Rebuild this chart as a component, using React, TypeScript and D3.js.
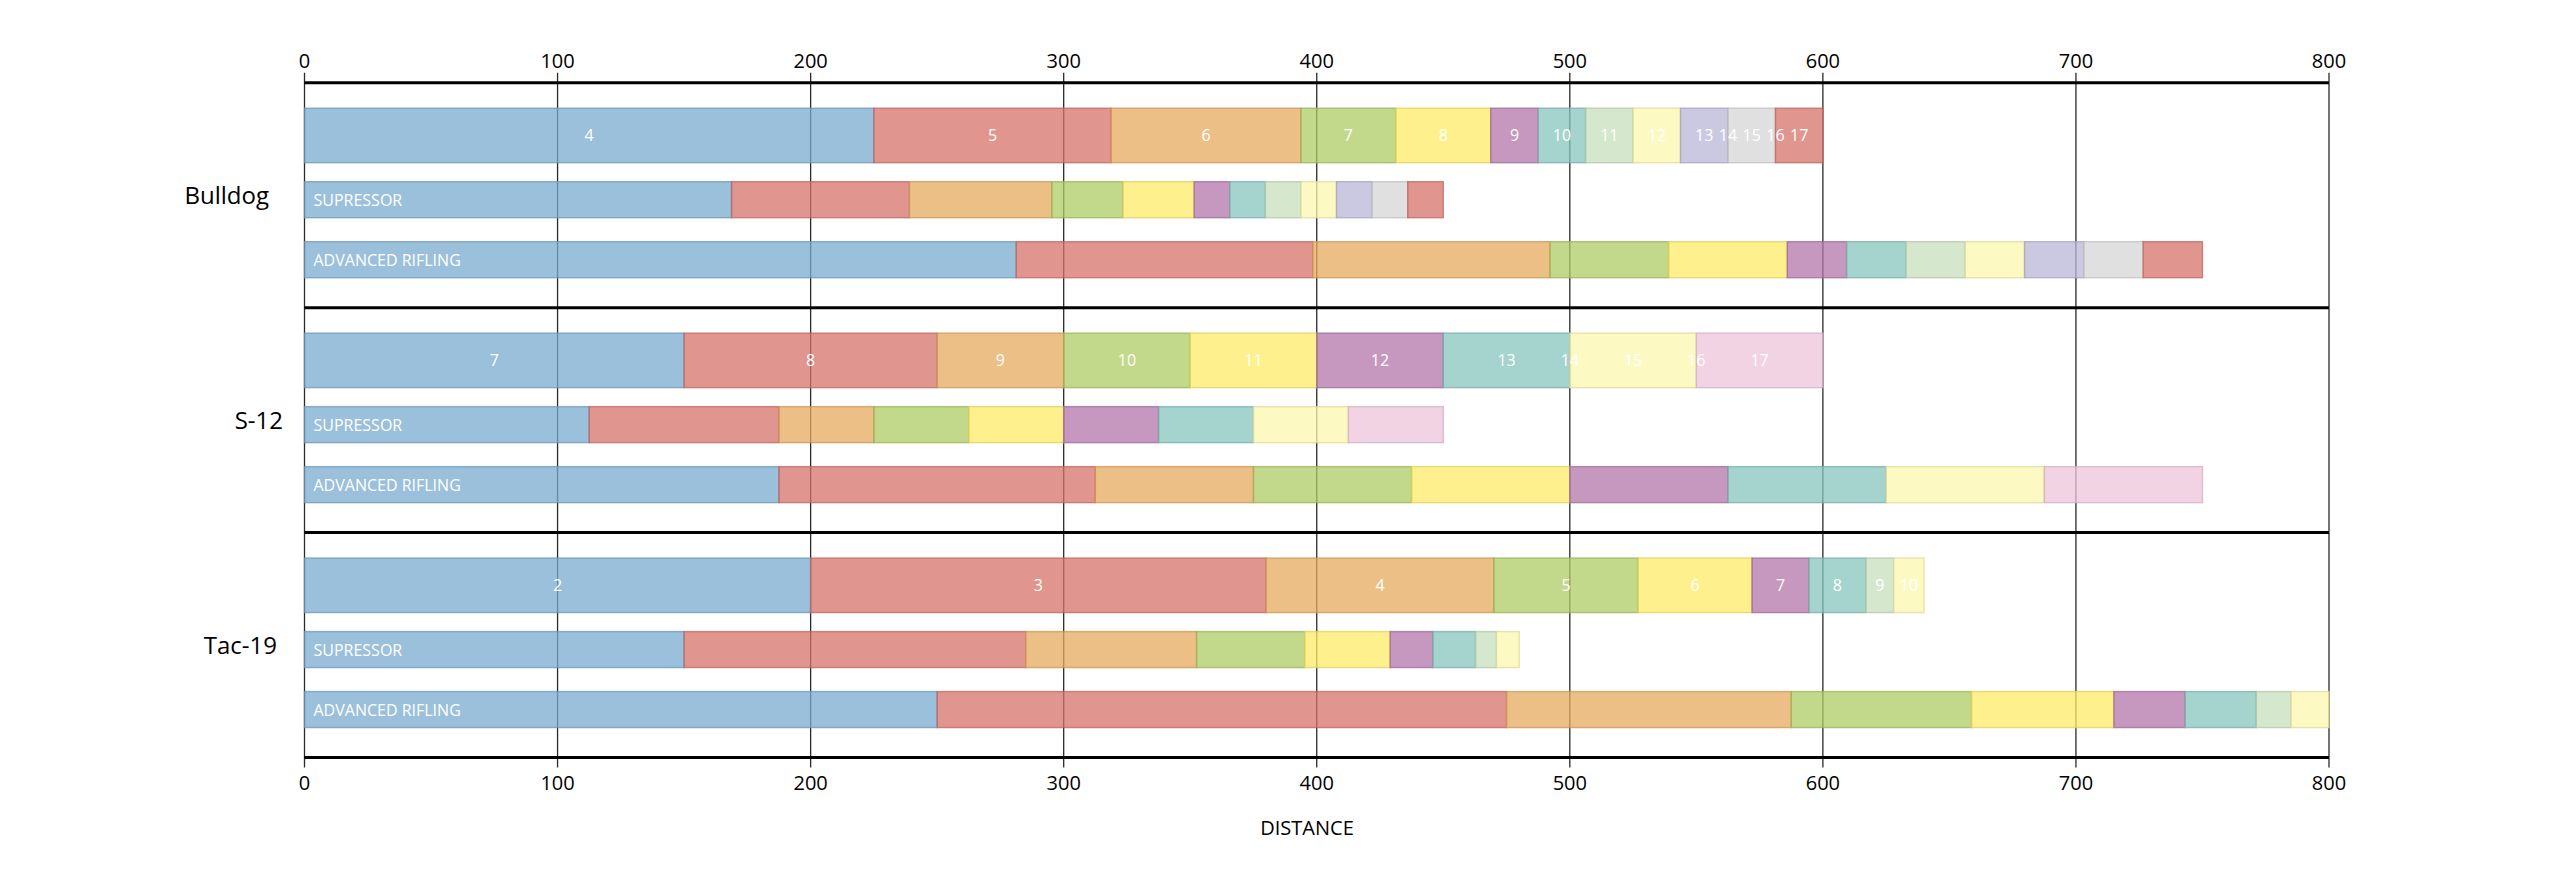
import React from "react";
import * as d3 from "d3";

// ---------- data ----------
const weapons = ["Bulldog", "S-12", "Tac-19"];
const firstShotCount = [4, 7, 2];
const bulldogBase = [225, 318.75, 393.75, 431.25, 468.75, 487.5, 506.25, 525, 543.75, 562.5, 562.5, 581.25, 581.25, 600];
const bulldogSupressor = [168.75, 239.06, 295.31, 323.44, 351.56, 365.63, 379.69, 393.75, 407.81, 421.88, 421.88, 435.94, 435.94, 450];
const bulldogRifling = [281.25, 398.44, 492.19, 539.06, 585.94, 609.38, 632.81, 656.25, 679.69, 703.13, 703.13, 726.56, 726.56, 750];
const s12Base = [150, 250, 300, 350, 400, 450, 500, 500, 550, 550, 600];
const s12Supressor = [112.5, 187.5, 225, 262.5, 300, 337.5, 375, 375, 412.5, 412.5, 450];
const s12Rifling = [187.5, 312.5, 375, 437.5, 500, 562.5, 625, 625, 687.5, 687.5, 750];
const tac19Base = [200, 380, 470, 527, 572, 594.5, 617, 628, 640];
const tac19Supressor = [150, 285, 352.5, 395.25, 429, 445.88, 462.75, 471, 480];
const tac19Rifling = [250, 475, 587.5, 658.75, 715, 743.13, 771.25, 785, 800];
const rowLabels = ["", "SUPRESSOR", "ADVANCED RIFLING"];
const xTickValues = [0, 100, 200, 300, 400, 500, 600, 700, 800];
const axisTitle = "DISTANCE";
const palette = [
  "#9bc0db", "#e0958f", "#ecbf86", "#c2d88a", "#fef08c", "#c698c0",
  "#a5d3cd", "#d5e7cd", "#fcf9c3", "#cbc9e2", "#f2d3e4", "#e0e0e0",
];

const weaponRows = [
  [bulldogBase, bulldogSupressor, bulldogRifling],
  [s12Base, s12Supressor, s12Rifling],
  [tac19Base, tac19Supressor, tac19Rifling],
];

// ---------- layout ----------
const W = 2550;
const H = 873;
const X0 = 304.5;
const X1 = 2329;
const TOP = 82.7;
const BOTTOM = 757.5;
const labelRight = [269, 283, 277];
const rowOffset = [25.5, 99, 159];
const rowHeight = [54.5, 36, 36];
const ALPHA = 0.75;
const FONT = "'Open Sans', 'Noto Sans', sans-serif";

function baseFill(c: string) {
  const o = d3.rgb(c);
  const f = (v: number) => Math.max(0, Math.min(255, (v - 255 * (1 - ALPHA)) / ALPHA));
  return d3.rgb(f(o.r), f(o.g), f(o.b)).formatHex();
}

export default function App() {
  const x = d3.scaleLinear().domain([0, 800]).range([X0, X1]);
  const y = d3.scaleBand<string>().domain(weapons).range([TOP, BOTTOM]).paddingInner(0).paddingOuter(0);
  const bw = y.bandwidth();

  return (
    <svg
      width={W}
      height={H}
      viewBox={`0 0 ${W} ${H}`}
      style={{ position: "absolute", left: 0, top: 0, background: "#fff", fontFamily: FONT }}
    >
      <rect x={0} y={0} width={W} height={H} fill="#fff" />
      {/* grid lines */}
      {xTickValues.map((t) => (
        <line key={"g" + t} x1={x(t)} x2={x(t)} y1={TOP - 10} y2={BOTTOM + 10} stroke="#2a2a2a" strokeWidth={1.3} />
      ))}
      {/* bars */}
      {weapons.map((w, wi) => {
        const top = y(w) as number;
        return (
          <g key={w}>
            {weaponRows[wi].map((vals, ri) => {
              const yy = top + rowOffset[ri];
              const hh = rowHeight[ri];
              return (
                <g key={ri}>
                  {vals.map((v, i) => {
                    const s = i === 0 ? 0 : vals[i - 1];
                    if (v - s <= 0) return null;
                    const col = palette[i % palette.length];
                    const fill = baseFill(col);
                    return (
                      <rect
                        key={i}
                        x={x(s)}
                        y={yy}
                        width={x(v) - x(s)}
                        height={hh}
                        fill={fill}
                        fillOpacity={ALPHA}
                        stroke={d3.rgb(fill).darker(0.35).formatHex()}
                        strokeOpacity={ALPHA}
                        strokeWidth={1.4}
                      />
                    );
                  })}
                  {ri === 0 &&
                    vals.map((v, i) => {
                      const s = i === 0 ? 0 : vals[i - 1];
                      return (
                        <text
                          key={"t" + i}
                          x={x((s + v) / 2)}
                          y={yy + hh / 2 + 6}
                          textAnchor="middle"
                          fill="#fff"
                          fontSize={16}
                        >
                          {firstShotCount[wi] + i}
                        </text>
                      );
                    })}
                  {ri > 0 && (
                    <text x={X0 + 9} y={yy + hh / 2 + 6.5} fill="#fff" fontSize={16}>
                      {rowLabels[ri]}
                    </text>
                  )}
                </g>
              );
            })}
            <text x={labelRight[wi]} y={top + bw / 2 + 9} textAnchor="end" fontSize={24} fill="#000">
              {w}
            </text>
          </g>
        );
      })}
      {/* group separators / axes */}
      {[TOP, ...weapons.slice(1).map((w) => y(w) as number), BOTTOM].map((yy, i) => (
        <line key={"s" + i} x1={X0} x2={X1} y1={yy} y2={yy} stroke="#000" strokeWidth={3} />
      ))}
      {/* tick labels */}
      {xTickValues.map((t) => (
        <g key={"tl" + t}>
          <text x={x(t)} y={68} textAnchor="middle" fontSize={20} fill="#000">
            {t}
          </text>
          <text x={x(t)} y={790} textAnchor="middle" fontSize={20} fill="#000">
            {t}
          </text>
        </g>
      ))}
      <text x={1307} y={834.5} textAnchor="middle" fontSize={20} fill="#000">
        {axisTitle}
      </text>
    </svg>
  );
}
